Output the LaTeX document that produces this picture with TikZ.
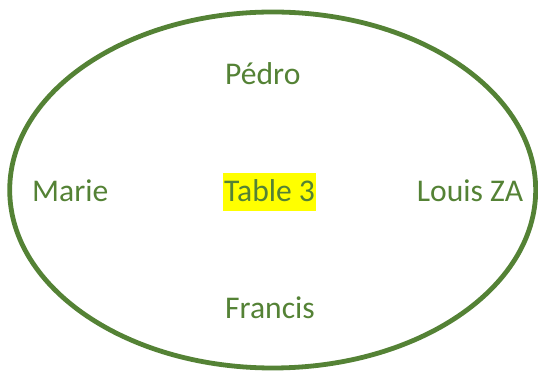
\documentclass[tikz,border=0pt]{standalone}
\usepackage{fontspec}
\setmainfont{Carlito}
\definecolor{ovalgreen}{HTML}{548235}
\definecolor{hiyellow}{HTML}{FFFF00}
\begin{document}
\begin{tikzpicture}[x=1pt,y=1pt,
  personlabel/.style={anchor=base west,inner sep=0pt,text=ovalgreen,font=\fontsize{31.6}{38}\selectfont},
  tablebox/.style={personlabel,fill=hiyellow,inner xsep=1.4pt,inner ysep=0pt,text height=29pt,text depth=9pt}]
\useasboundingbox (0,0) rectangle (538,374);
\draw[ovalgreen,line width=4.8pt] (272.7,184) ellipse [x radius=263,y radius=178];
\node[personlabel] (pedro) at (225,289) {Pédro};
\node[personlabel] (marie) at (32,172.3) {Marie};
\node[tablebox] (table) at (222.6,172.3) {Table 3};
\node[personlabel] (louis) at (416.7,172.3) {Louis ZA};
\node[personlabel] (francis) at (225,55.7) {Francis};
\end{tikzpicture}
\end{document}
